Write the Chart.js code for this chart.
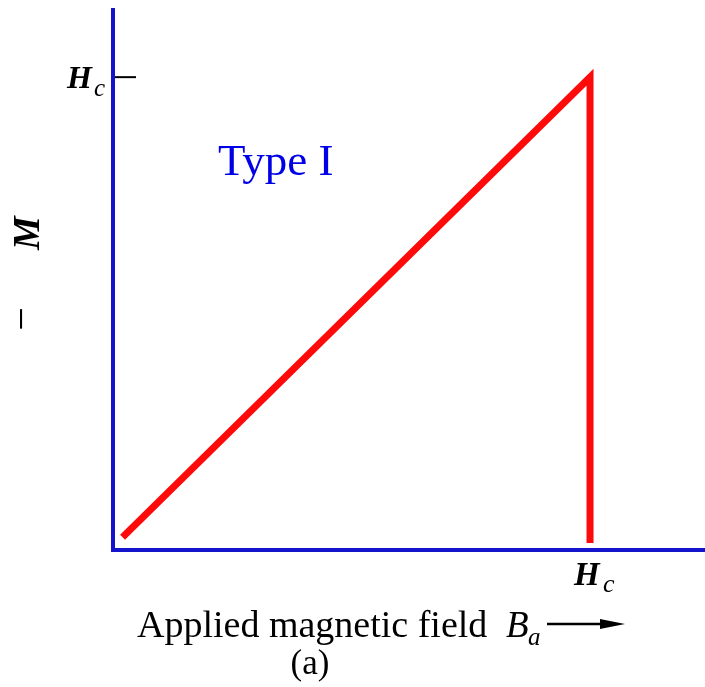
<!DOCTYPE html>
<html>
<head>
<meta charset="utf-8">
<script src="https://cdn.jsdelivr.net/npm/chart.js@4"></script>
<style>
  html, body { margin: 0; padding: 0; background: #fff; }
  #wrap { width: 705px; height: 687px; position: relative; }
</style>
</head>
<body>
<div id="wrap"><canvas id="c" width="705" height="687"></canvas></div>
<script>
// ---- data ----
const fieldValues = [0.02, 1.0, 1.0];          // applied field B_a, in units of H_c
const magnetization = [0.027, 1.0, 0.015];     // -M, in units of H_c
const criticalField = [1.0];                    // the single tick on each axis
const tickMain = ['H'];
const tickSub = ['c'];
const seriesLabel = ['Type I'];
const xTitle = ['Applied magnetic field ', 'B', 'a'];
const yTitle = ['\u2212', 'M'];
const panelLabel = ['(a)'];

const AXIS_BLUE = '#1414cc';
const SERIF = '"Liberation Serif", "DejaVu Serif", serif';

const annotations = {
  id: 'annotations',
  afterDraw(chart) {
    const ctx = chart.ctx;
    const xs = chart.scales.x, ys = chart.scales.y;
    const hx = xs.getPixelForValue(criticalField[0]);
    const hy = ys.getPixelForValue(criticalField[0]);
    ctx.save();
    // y tick at H_c
    ctx.strokeStyle = '#000';
    ctx.lineWidth = 2;
    ctx.beginPath();
    ctx.moveTo(xs.left + 2, hy);
    ctx.lineTo(xs.left + 23, hy);
    ctx.stroke();

    ctx.fillStyle = '#000';
    ctx.textBaseline = 'alphabetic';
    // y tick label H_c
    ctx.font = 'italic bold 32px ' + SERIF;
    ctx.textAlign = 'left';
    ctx.fillText(tickMain[0], 67, hy + 11);
    ctx.font = 'italic 25px ' + SERIF;
    ctx.fillText(tickSub[0], 94, hy + 19);

    // x tick label H_c
    ctx.font = 'italic bold 33px ' + SERIF;
    ctx.fillText(tickMain[0], hx - 16, 585);
    ctx.font = 'italic 26px ' + SERIF;
    ctx.fillText(tickSub[0], hx + 13, 592);

    // series label
    ctx.fillStyle = '#0000e6';
    ctx.font = '45px ' + SERIF;
    ctx.fillText(seriesLabel[0], 218, 175);

    // x title
    ctx.fillStyle = '#000';
    ctx.font = '38px ' + SERIF;
    ctx.fillText(xTitle[0], 137, 637);
    ctx.font = 'italic 37px ' + SERIF;
    ctx.fillText(xTitle[1], 506, 637);
    ctx.font = 'italic 25px ' + SERIF;
    ctx.fillText(xTitle[2], 528, 645);
    // arrow
    ctx.strokeStyle = '#000';
    ctx.lineWidth = 2.5;
    ctx.beginPath();
    ctx.moveTo(547, 624);
    ctx.lineTo(606, 624);
    ctx.stroke();
    ctx.beginPath();
    ctx.moveTo(625, 624);
    ctx.lineTo(600, 619);
    ctx.lineTo(600, 629);
    ctx.closePath();
    ctx.fill();

    // panel label
    ctx.font = '35px ' + SERIF;
    ctx.textAlign = 'center';
    ctx.fillText(panelLabel[0], 310, 674);

    // y title, rotated
    ctx.save();
    ctx.translate(40, 0);
    ctx.rotate(-Math.PI / 2);
    ctx.textAlign = 'center';
    ctx.font = '42px ' + SERIF;
    ctx.fillText(yTitle[0], -319, -5);
    ctx.font = 'italic bold 38px ' + SERIF;
    ctx.fillText(yTitle[1], -233, -1);
    ctx.restore();

    ctx.restore();
  }
};

new Chart(document.getElementById('c'), {
  type: 'line',
  data: {
    datasets: [{
      label: seriesLabel[0],
      data: fieldValues.map((v, i) => ({ x: v, y: magnetization[i] })),
      borderColor: '#ff0a0a',
      backgroundColor: '#ff0a0a',
      borderWidth: 7,
      borderJoinStyle: 'miter',
      borderCapStyle: 'butt',
      pointRadius: 0,
      tension: 0,
      fill: false
    }]
  },
  options: {
    responsive: false,
    animation: false,
    devicePixelRatio: 1,
    layout: { padding: { left: 113, top: 10, right: 0, bottom: 137 } },
    plugins: { legend: { display: false }, tooltip: { enabled: false } },
    scales: {
      x: {
        type: 'linear', min: 0, max: 1.241,
        ticks: { display: false },
        grid: { display: false },
        border: { display: true, color: AXIS_BLUE, width: 4 },
        afterFit(s) { s.height = 0; }
      },
      y: {
        type: 'linear', min: 0, max: 1.142,
        ticks: { display: false },
        grid: { display: false },
        border: { display: true, color: AXIS_BLUE, width: 4 },
        afterFit(s) { s.width = 0; }
      }
    }
  },
  plugins: [annotations]
});
</script>
</body>
</html>
